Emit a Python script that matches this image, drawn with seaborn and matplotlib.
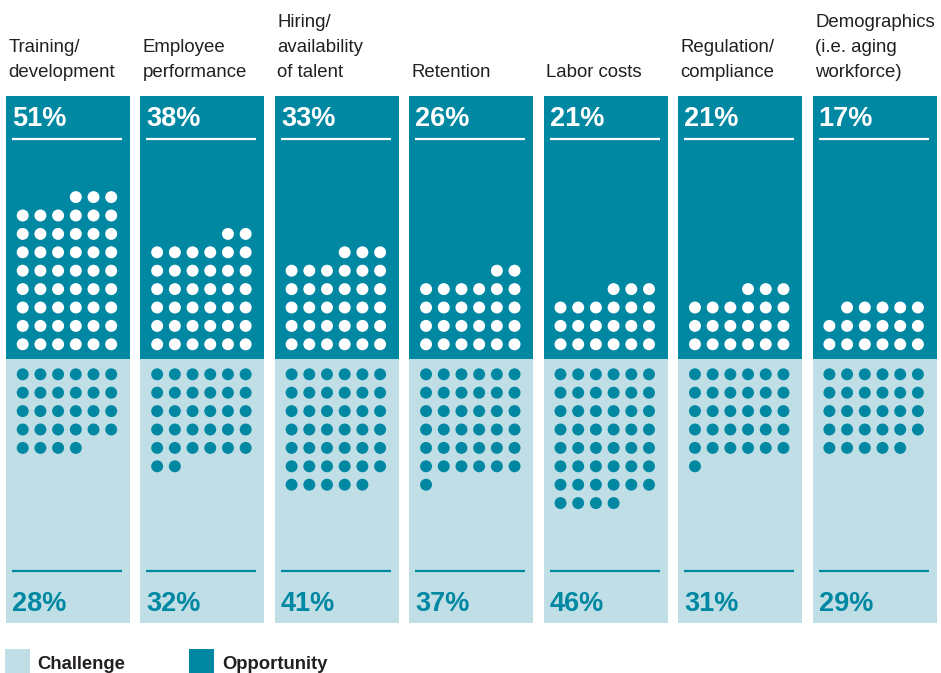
import matplotlib
matplotlib.use("Agg")
import matplotlib.pyplot as plt
import seaborn as sns
import pandas as pd
from matplotlib.patches import Rectangle

sns.set_theme(style="white")
plt.rcParams['font.family'] = ['Liberation Sans', 'DejaVu Sans']

# ---- data ----
categories = ["Training/\ndevelopment", "Employee\nperformance",
              "Hiring/\navailability\nof talent", "Retention", "Labor costs",
              "Regulation/\ncompliance", "Demographics\n(i.e. aging\nworkforce)"]
opportunity = [51, 38, 33, 26, 21, 21, 17]
challenge = [28, 32, 41, 37, 46, 31, 29]
legend_labels = ["Challenge", "Opportunity"]

DARK = "#0088A3"
LIGHT = "#C0DEE6"
TXT = "#231F20"

W, H = 941, 673
fig = plt.figure(figsize=(W / 100, H / 100), dpi=100)
ax = fig.add_axes([0, 0, 1, 1])
ax.set_xlim(0, W)
ax.set_ylim(H, 0)
ax.axis("off")

# layout (pixel units)
left0, pitch, pw = 6.0, 134.45, 124.0
top, mid, bot = 96.0, 359.3, 622.7
ncol, dx, dy = 6, 17.7, 18.4
dot_x0 = 16.7
opp_row0 = 344.3
cha_row0 = 374.3

lefts = [left0 + i * pitch for i in range(len(categories))]
centers = [l + pw / 2 for l in lefts]

# panel halves as bars
ax.bar(centers, [mid - top] * len(centers), bottom=top, width=pw, color=DARK, linewidth=0)
ax.bar(centers, [bot - mid] * len(centers), bottom=mid, width=pw, color=LIGHT, linewidth=0)

# dots
rows = []
for i, (o, c) in enumerate(zip(opportunity, challenge)):
    l = lefts[i]
    full, rem = divmod(o, ncol)
    for r in range(full):
        for col in range(ncol):
            rows.append(dict(x=l + dot_x0 + col * dx, y=opp_row0 - r * dy, kind="Opportunity"))
    for col in range(ncol - rem, ncol):
        rows.append(dict(x=l + dot_x0 + col * dx, y=opp_row0 - full * dy, kind="Opportunity"))
    full, rem = divmod(c, ncol)
    for r in range(full):
        for col in range(ncol):
            rows.append(dict(x=l + dot_x0 + col * dx, y=cha_row0 + r * dy, kind="Challenge"))
    for col in range(rem):
        rows.append(dict(x=l + dot_x0 + col * dx, y=cha_row0 + full * dy, kind="Challenge"))
dots = pd.DataFrame(rows)
sns.scatterplot(data=dots, x="x", y="y", hue="kind",
                palette={"Opportunity": "white", "Challenge": DARK},
                s=74, linewidth=0, legend=False, ax=ax)
ax.set_xlim(0, W)
ax.set_ylim(H, 0)
ax.axis("off")

# texts and rules
for i, cat in enumerate(categories):
    l = lefts[i]
    lines = cat.split("\n")
    n = len(lines)
    for j, line in enumerate(lines):
        ax.text(l + 2.5, 77 - 25 * (n - 1 - j), line, fontsize=13.4, color=TXT,
                ha="left", va="baseline")
    ax.text(l + 6, 126, f"{opportunity[i]}%", fontsize=19.5, fontweight="bold",
            color="white", ha="left", va="baseline")
    ax.plot([l + 6, l + 116], [139.3, 139.3], color="white", lw=1.6, solid_capstyle="butt")
    ax.plot([l + 6, l + 116], [570.7, 570.7], color=DARK, lw=1.6, solid_capstyle="butt")
    ax.text(l + 6, 610.7, f"{challenge[i]}%", fontsize=19.5, fontweight="bold",
            color=DARK, ha="left", va="baseline")

# legend
for (sx, tx), lab, colr in zip([(5, 37), (189, 222)], legend_labels, [LIGHT, DARK]):
    ax.add_patch(Rectangle((sx, 649), 25, 26, facecolor=colr, edgecolor="none", clip_on=False))
    ax.text(tx, 669, lab, fontsize=13.3, fontweight="bold", color=TXT, ha="left", va="baseline")

fig.savefig("out.png", dpi=100)
